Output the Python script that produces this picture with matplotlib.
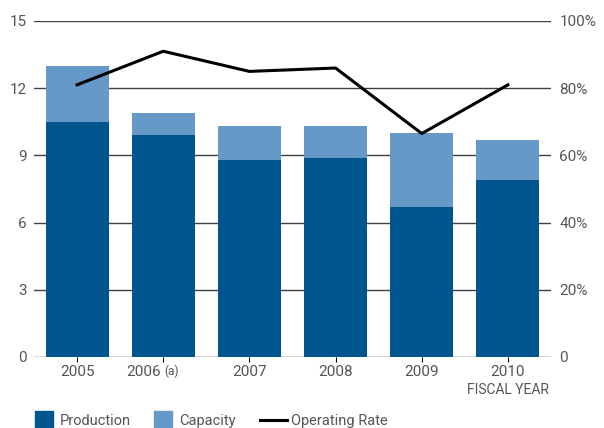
import matplotlib
matplotlib.use("Agg")
import matplotlib.pyplot as plt
from matplotlib.patches import Rectangle
from matplotlib.lines import Line2D
import numpy as np

plt.rcParams['font.family'] = ['Roboto', 'DejaVu Sans']

years = ["2005", "2006", "2007", "2008", "2009", "2010"]
capacity = [13.0, 10.9, 10.3, 10.3, 10.0, 9.7]
production = [10.5, 9.9, 8.8, 8.9, 6.7, 7.9]
operating_rate = [81, 91, 85, 86, 66.5, 81]
left_ticks = [0, 3, 6, 9, 12, 15]
right_ticks = [0, 20, 40, 60, 80, 100]
right_labels = ["0", "20%", "40%", "60%", "80%", "100%"]

dark = "#00558F"
light = "#6699C7"
txt = "#555555"
gridc = "#3f3f48"

W, H = 604, 428
fig = plt.figure(figsize=(W/100, H/100), dpi=100)
ax = fig.add_axes([34/W, 71/H, 517/W, 336/H])
x = np.arange(len(years))
w = 0.73
ax.bar(x, capacity, width=w, color=light, zorder=2)
ax.bar(x, production, width=w, color=dark, zorder=3)
ax.set_xlim(-0.5, 5.5)
ax.set_ylim(0, 15)
for t in left_ticks:
    ax.axhline(t, color=gridc, lw=1.0, zorder=1)
ax.set_yticks(left_ticks)
ax.set_yticklabels([str(t) for t in left_ticks])
ax.tick_params(axis='y', length=0, pad=5, labelsize=11, labelcolor=txt)
ax.set_xticks(x)
ax.set_xticklabels([])
for s in ax.spines.values():
    s.set_visible(False)
for xi, yr in zip(x, years):
    if yr == "2006":
        ax.annotate(yr, xy=(xi, 0), xycoords='data', xytext=(-1.5, -11),
                    textcoords='offset points', ha='right', va='center',
                    fontsize=11, color=txt)
        ax.annotate("(a)", xy=(xi, 0), xycoords='data', xytext=(1, -10.5),
                    textcoords='offset points', ha='left', va='center',
                    fontsize=8.5, color=txt)
    else:
        ax.annotate(yr, xy=(xi, 0), xycoords='data', xytext=(0, -11),
                    textcoords='offset points', ha='center', va='center',
                    fontsize=11, color=txt)
ax.annotate("FISCAL YEAR", xy=(5, 0), xycoords='data', xytext=(0, -24),
            textcoords='offset points', ha='center', va='center',
            fontsize=10, color=txt)

ax2 = ax.twinx()
ax2.set_ylim(0, 100)
ax2.plot(x, operating_rate, color="black", lw=2.2, zorder=5)
ax2.set_yticks(right_ticks)
ax2.set_yticklabels(right_labels)
ax2.tick_params(axis='y', length=0, pad=6, labelsize=11, labelcolor=txt)
for s in ax2.spines.values():
    s.set_visible(False)

# legend (manual, in figure pixel coordinates)
def fx(px):
    return px / W

def fy(py):
    return 1 - py / H

fig.patches.append(Rectangle((fx(35), fy(428)), 18/W, 17/H, color=dark,
                             transform=fig.transFigure, figure=fig))
fig.text(fx(60), fy(421), "Production", fontsize=10.5, color=txt, va='center', ha='left')
fig.patches.append(Rectangle((fx(154), fy(428)), 18/W, 17/H, color=light,
                             transform=fig.transFigure, figure=fig))
fig.text(fx(179), fy(421), "Capacity", fontsize=10.5, color=txt, va='center', ha='left')
fig.lines.append(Line2D([fx(260), fx(287)], [fy(420), fy(420)], color="black", lw=2.2,
                        transform=fig.transFigure, figure=fig))
fig.text(fx(291), fy(421), "Operating Rate", fontsize=10.5, color=txt, va='center', ha='left')

fig.savefig("out.png", dpi=100)
